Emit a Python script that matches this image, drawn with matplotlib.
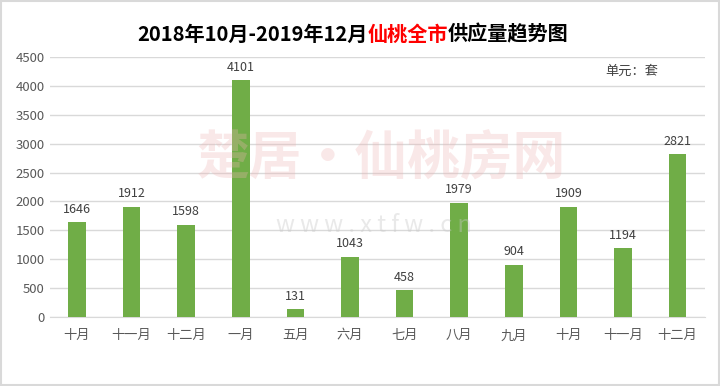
import matplotlib
matplotlib.use("Agg")
import matplotlib.pyplot as plt
from matplotlib.offsetbox import TextArea, HPacker, AnchoredOffsetbox
from matplotlib.patches import Rectangle

plt.rcParams['font.family'] = ['Noto Sans CJK SC', 'DejaVu Sans']

# 数据
months = ["十月", "十一月", "十二月", "一月", "五月", "六月", "七月",
          "八月", "九月", "十月", "十一月", "十二月"]
supply = [1646, 1912, 1598, 4101, 131, 1043, 458, 1979, 904, 1909, 1194, 2821]
yticks = [0, 500, 1000, 1500, 2000, 2500, 3000, 3500, 4000, 4500]

fig = plt.figure(figsize=(7.2, 3.86), dpi=100)
ax = fig.add_axes([0.069, 0.179, 0.91, 0.673])

x = list(range(len(months)))
ax.bar(x, supply, width=0.32, color="#70AD47", zorder=3)
for xi, v in zip(x, supply):
    ax.text(xi, v + 110, str(v), ha="center", va="bottom", fontsize=9,
            color="#404040", zorder=4)

ax.set_xlim(-0.5, len(months) - 0.5)
ax.set_ylim(0, 4500)
ax.set_yticks(yticks)
ax.set_xticks(x)
ax.set_xticklabels(months)
ax.tick_params(axis="both", length=0, labelsize=9.5, colors="#595959")
ax.tick_params(axis="x", pad=9)
ax.grid(axis="y", color="#d9d9d9", linewidth=1, zorder=0)
for s in ["top", "right", "left"]:
    ax.spines[s].set_visible(False)
ax.spines["bottom"].set_color("#d9d9d9")

# 水印
fig.text(0.53, 0.59, "楚居·仙桃房网", fontsize=38, fontweight="bold",
         color="#eeb4b4", alpha=0.3, ha="center", va="center", zorder=0)
fig.text(0.52, 0.415, "w w w . x t f w . c n", fontsize=17,
         color="#c8c8c8", alpha=0.4, ha="center", va="center", zorder=0)

# 单位
fig.text(0.877, 0.805, "单元：套", fontsize=9.5, color="#404040", ha="center")

# 标题（部分红色）
parts = [("2018年10月-2019年12月", "#000000"), ("仙桃全市", "#ff0000"),
         ("供应量趋势图", "#000000")]
boxes = [TextArea(t, textprops=dict(color=c, fontsize=14.5, fontweight="bold"))
         for t, c in parts]
pack = HPacker(children=boxes, align="baseline", pad=0, sep=0)
anch = AnchoredOffsetbox(loc="center", child=pack, frameon=False,
                         bbox_to_anchor=(0.49, 0.912),
                         bbox_transform=fig.transFigure, borderpad=0)
fig.add_artist(anch)

# 外框
fig.patches.append(Rectangle((0.002, 0.003), 0.996, 0.994, transform=fig.transFigure,
                             fill=False, edgecolor="#d9d9d9", linewidth=1.5))

fig.savefig("out.png", dpi=100)
